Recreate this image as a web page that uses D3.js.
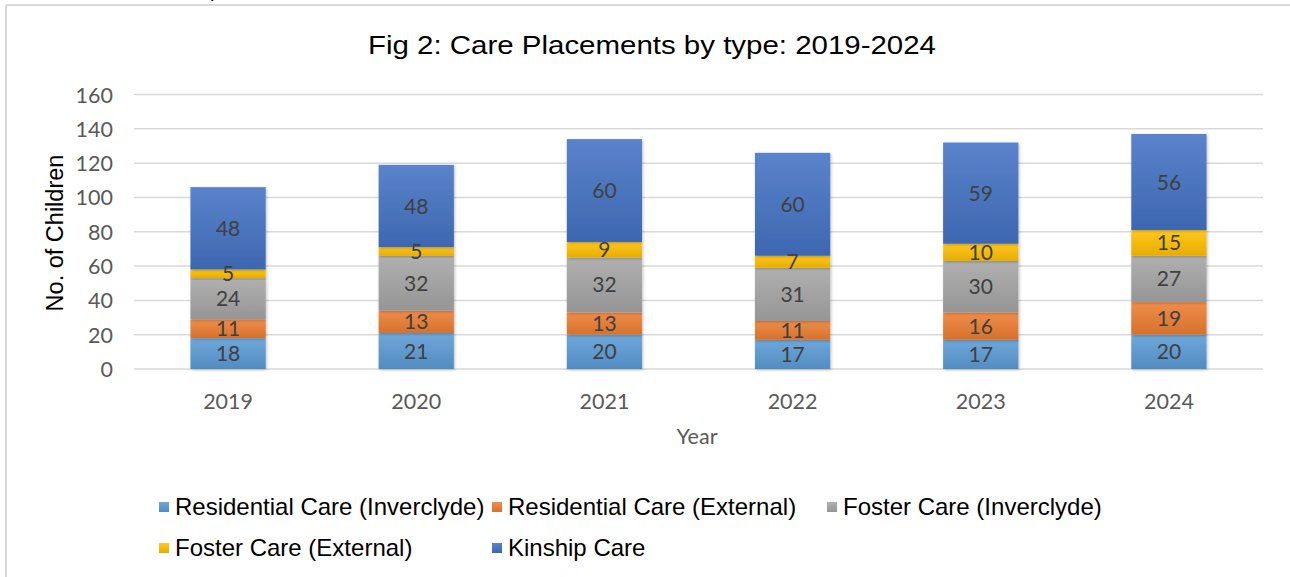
<!DOCTYPE html>
<html>
<head>
<meta charset="utf-8">
<script src="https://cdn.jsdelivr.net/npm/d3@7"></script>
<style>
html,body{margin:0;padding:0;background:#fff;}
svg{display:block;}
</style>
</head>
<body>
<svg id="chart" width="1290" height="577"></svg>
<script>
const years = ["2019","2020","2021","2022","2023","2024"];
const seriesNames = ["Residential Care (Inverclyde)","Residential Care (External)","Foster Care (Inverclyde)","Foster Care (External)","Kinship Care"];
const residentialInverclyde = [18,21,20,17,17,20];
const residentialExternal = [11,13,13,11,16,19];
const fosterInverclyde = [24,32,32,31,30,27];
const fosterExternal = [5,5,9,7,10,15];
const kinship = [48,48,60,60,59,56];
const yTicks = [0,20,40,60,80,100,120,140,160];
const colors = ["#5B9BD5","#ED7D31","#A5A5A5","#FFC000","#4472C4"];

const seriesValues = [residentialInverclyde,residentialExternal,fosterInverclyde,fosterExternal,kinship];
const table = years.map((y,i)=>{const o={year:y}; seriesNames.forEach((s,j)=>o[s]=seriesValues[j][i]); return o;});

const svg = d3.select("#chart");
const defs = svg.append("defs");
colors.forEach((c,i)=>{
  const g = defs.append("linearGradient").attr("id","g"+i).attr("x1",0).attr("y1",0).attr("x2",0).attr("y2",1);
  g.append("stop").attr("offset","0%").attr("stop-color",d3.interpolateRgb(c,"#ffffff")(0.12));
  g.append("stop").attr("offset","100%").attr("stop-color",d3.interpolateRgb(c,"#000000")(0.1));
});
const f = defs.append("filter").attr("id","sh").attr("x","-10%").attr("y","-10%").attr("width","130%").attr("height","130%");
f.append("feDropShadow").attr("dx",1).attr("dy",1).attr("stdDeviation",1.5).attr("flood-color","#000").attr("flood-opacity",0.25);

// border (top and left visible)
svg.append("line").attr("x1",6).attr("x2",1290).attr("y1",5).attr("y2",5).attr("stroke","#d9d9d9").attr("stroke-width",2);
svg.append("line").attr("x1",6).attr("x2",6).attr("y1",5).attr("y2",577).attr("stroke","#d9d9d9").attr("stroke-width",2);
// cut-off text descender at top (as in the reference)
svg.append("text").attr("x",210).attr("y",-3).attr("font-family","Liberation Sans").attr("font-size",20).attr("fill","#000").text("p");

const x = d3.scaleBand().domain(years).range([134,1263]).paddingInner(0.6).paddingOuter(0.3);
const y = d3.scaleLinear().domain([0,160]).range([369,94.5]);

// gridlines
svg.append("g").selectAll("line").data(yTicks).join("line")
  .attr("x1",134).attr("x2",1263).attr("y1",d=>y(d)).attr("y2",d=>y(d))
  .attr("stroke","#d9d9d9").attr("stroke-width",1.5);

// y axis
const yAxis = svg.append("g").attr("transform","translate(122,0)")
  .call(d3.axisLeft(y).tickValues(yTicks).tickSize(0).tickPadding(0));
yAxis.select(".domain").remove();
yAxis.selectAll("text").attr("font-family","Lato").attr("font-size",21.5).attr("fill","#595959").attr("dy","0.35em").attr("x",-9);

// x axis
const xAxis = svg.append("g").attr("transform","translate(0,369)")
  .call(d3.axisBottom(x).tickSize(0).tickPadding(0));
xAxis.select(".domain").remove();
xAxis.selectAll("text").attr("font-family","Lato").attr("font-size",21.5).attr("fill","#595959").attr("dy",0).attr("y",40);

// stacked bars
const stack = d3.stack().keys(seriesNames)(table);
const layers = svg.append("g").selectAll("g").data(stack).join("g").attr("fill",(d,i)=>`url(#g${i})`);
layers.selectAll("rect").data(d=>d).join("rect")
  .attr("x",d=>x(d.data.year)).attr("width",x.bandwidth())
  .attr("y",d=>y(d[1])).attr("height",d=>y(d[0])-y(d[1]))
  .attr("filter","url(#sh)");
// labels
const lab = svg.append("g");
stack.forEach((s)=>{
  lab.selectAll(null).data(s).join("text")
    .attr("x",d=>x(d.data.year)+x.bandwidth()/2)
    .attr("y",d=>(y(d[0])+y(d[1]))/2)
    .attr("dy","0.36em")
    .attr("text-anchor","middle")
    .attr("font-family","Lato").attr("font-size",21).attr("fill","#404040")
    .text(d=>d[1]-d[0]);
});

// title
svg.append("text").attr("x",652).attr("y",54).attr("text-anchor","middle")
  .attr("font-family","Liberation Sans").attr("font-size",26).attr("fill","#000")
  .attr("textLength",568).attr("lengthAdjust","spacingAndGlyphs")
  .text("Fig 2: Care Placements by type: 2019-2024");

// axis titles
svg.append("text").attr("transform","translate(63,233) rotate(-90)").attr("text-anchor","middle")
  .attr("font-family","Liberation Sans").attr("font-size",23.5).attr("fill","#000")
  .text("No. of Children");
svg.append("text").attr("x",697).attr("y",444).attr("text-anchor","middle")
  .attr("font-family","Lato").attr("font-size",21.5).attr("fill","#595959").text("Year");

// legend
const legendPos = [[159,507],[492,507],[827,507],[159,548],[492,548]];
const lg = svg.append("g").selectAll("g").data(seriesNames).join("g")
  .attr("transform",(d,i)=>`translate(${legendPos[i][0]},${legendPos[i][1]})`);
lg.append("rect").attr("x",0).attr("y",-5).attr("width",10).attr("height",10).attr("fill",(d,i)=>`url(#g${i})`);
lg.append("text").attr("x",16).attr("y",0).attr("dy","0.35em")
  .attr("font-family","Liberation Sans").attr("font-size",24).attr("fill","#000").text(d=>d);
</script>
</body>
</html>
